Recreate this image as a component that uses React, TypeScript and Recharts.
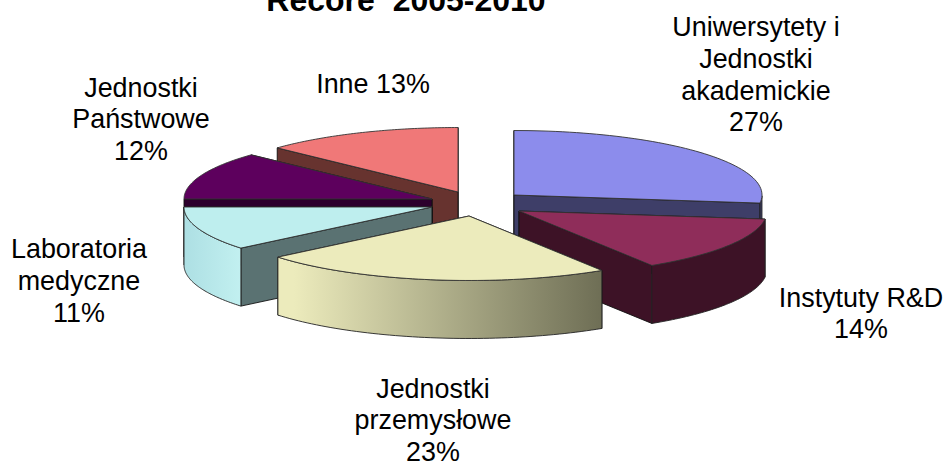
import React from "react";
import { PieChart, Pie } from "recharts";

const titleText = "Recore\u00a0\u00a02005-2010";
const categories = ["Uniwersytety i Jednostki akademickie", "Instytuty R&D", "Jednostki przemysłowe", "Laboratoria medyczne", "Jednostki Państwowe", "Inne"];
const values = [27, 14, 23, 11, 12, 13];
const labelLines = [
  ["Uniwersytety i", "Jednostki", "akademickie", "27%"],
  ["Instytuty R&D", "14%"],
  ["Jednostki", "przemysłowe", "23%"],
  ["Laboratoria", "medyczne", "11%"],
  ["Jednostki", "Państwowe", "12%"],
  ["Inne 13%"],
];

// Styling / layout (explode offsets of each slice from the pie centre, in px)
const explodeDx = [44, 49, -1, -38, -38, -12];
const explodeDy = [-5, 11, 16, 7, -1, -8];
const topColors = ["#8C8CEC", "#8F2D5A", "#ECEBBC", "#BEEEEE", "#5D005D", "#F07878"];
const wallColors = ["#3E3E68", "#3D1226", "#6E6E55", "#5A7272", "#2D002D", "#67332F"];
const rimFrom = ["#3E3E68", "#3D1226", "#ECEBBC", "#AEE0E4", "#2D002D", "#67332F"];
const rimTo = ["#3E3E68", "#3D1226", "#6E6E55", "#C2F0F0", "#2D002D", "#67332F"];
const labelX = [756, 861, 433, 79, 141, 373];
const labelY = [36, 306.5, 397.5, 258, 96.5, 93];
const LINE_H = 31.8;
const zOrder = [5, 4, 0, 3, 1, 2];
const CX = 470;
const CY = 200;
const RX = 248;
const TILT = 0.26;
const DEPTH = 58;
const chartData = categories.map((name, i) => ({ name, value: values[i], idx: i }));

function Slice(props: any) {
  const { cx, cy, outerRadius, startAngle, endAngle, payload } = props;
  const i = payload?.idx ?? props.idx;
  const ax = cx + explodeDx[i];
  const ay = cy + explodeDy[i];
  const rad = (d: number) => (d * Math.PI) / 180;
  const pt = (d: number, dz = 0): [number, number] => [
    ax + outerRadius * Math.cos(rad(d)),
    ay - outerRadius * TILT * Math.sin(rad(d)) + dz,
  ];
  const fmt = (p: [number, number]) => `${p[0].toFixed(2)} ${p[1].toFixed(2)}`;
  const steps = 60;
  const arc: number[] = [];
  for (let k = 0; k <= steps; k++) arc.push(startAngle + ((endAngle - startAngle) * k) / steps);
  const topPath = `M${ax} ${ay} L` + arc.map((d) => fmt(pt(d))).join(" L") + " Z";
  const wall = (d: number) => {
    const p = pt(d);
    return `M${ax} ${ay} L${fmt(p)} L${p[0]} ${p[1] + DEPTH} L${ax} ${ay + DEPTH} Z`;
  };
  const mid = pt((startAngle + endAngle) / 2);
  // A cut wall faces the viewer only when the slice's top lies above its edge.
  const facesViewer = (d: number) => {
    const p = pt(d);
    const dx = p[0] - ax;
    const dy = p[1] - ay;
    if (Math.abs(dx) < 0.5) return false;
    const lineY = ay + (dy / dx) * (mid[0] - ax);
    return mid[1] < lineY;
  };
  const orderedWalls = [startAngle, endAngle].sort((a, b) => Number(facesViewer(a)) - Number(facesViewer(b)));
  const norm = (d: number) => ((d % 360) + 360) % 360;
  const front = arc.filter((d) => norm(d) >= 180 || norm(d) === 0);
  const rimPath =
    front.length > 1
      ? "M" + front.map((d) => fmt(pt(d))).join(" L") + " L" + [...front].reverse().map((d) => fmt(pt(d, DEPTH))).join(" L") + " Z"
      : null;
  const gid = `rim-grad-${i}`;
  return (
    <g>
      <defs>
        <linearGradient id={gid} x1="0" y1="0" x2="1" y2="0">
          <stop offset="0.05" stopColor={rimFrom[i]} />
          <stop offset="1" stopColor={rimTo[i]} />
        </linearGradient>
      </defs>
      {orderedWalls.map((d) => (
        <path key={d} d={wall(d)} fill={wallColors[i]} stroke="#111" strokeWidth={0.9} strokeLinejoin="round" />
      ))}
      {rimPath && <path d={rimPath} fill={`url(#${gid})`} stroke="#222" strokeWidth={0.9} strokeLinejoin="round" />}
      <path d={topPath} fill={topColors[i]} stroke="#333" strokeWidth={0.9} strokeLinejoin="round" />
    </g>
  );
}

function renderLabel(props: any) {
  const i = props.payload?.idx ?? props.idx;
  return (
    <text key={i} textAnchor="middle" fontFamily="'Liberation Sans', Arial, sans-serif" fontSize={26.9} fill="#000">
      {labelLines[i].map((line, k) => (
        <tspan key={k} x={labelX[i]} y={labelY[i] + k * LINE_H}>
          {line}
        </tspan>
      ))}
    </text>
  );
}

export default function App() {
  return (
    <div style={{ position: "absolute", left: 0, top: 0, width: 946, height: 461, overflow: "hidden", background: "#fff" }}>
      <PieChart width={946} height={461} margin={{ top: 0, right: 0, bottom: 0, left: 0 }}>
        <text x={406} y={11} textAnchor="middle" fontFamily="'Liberation Sans', Arial, sans-serif" fontWeight="bold" fontSize={32} fill="#000">
          {titleText}
        </text>
        {zOrder.map((z) => (
          <Pie
            key={z}
            data={chartData}
            dataKey="value"
            nameKey="name"
            cx={CX}
            cy={CY}
            innerRadius={0}
            outerRadius={RX}
            startAngle={90}
            endAngle={-270}
            paddingAngle={0}
            isAnimationActive={false}
            labelLine={false}
            label={(p: any) => ((p.payload?.idx ?? p.idx) === z ? renderLabel(p) : <g key={p.index} />)}
            shape={(p: any) => ((p.payload?.idx ?? p.idx) === z ? <Slice {...p} /> : <g />)}
          />
        ))}
      </PieChart>
    </div>
  );
}
